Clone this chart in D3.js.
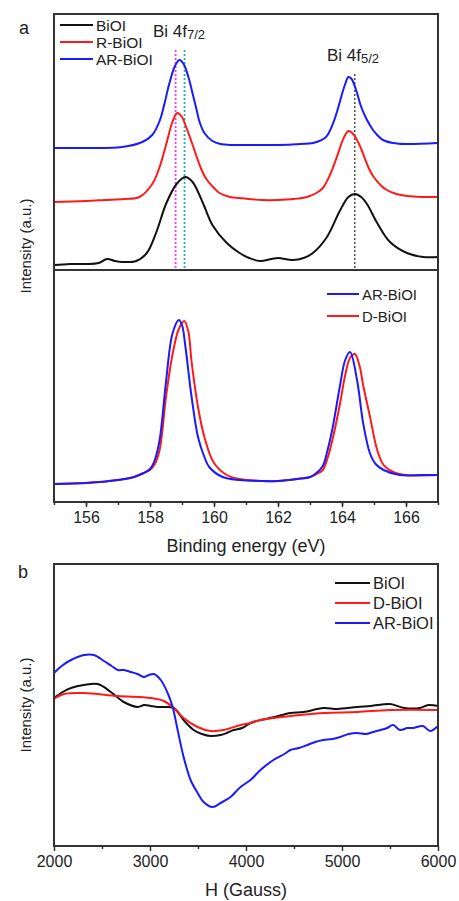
<!DOCTYPE html>
<html lang="en">
<head>
<meta charset="UTF-8">
<title>BiOI XPS / EPR</title>
<script src="https://d3js.org/d3.v7.min.js"></script>
<style>
  body { margin: 0; background: #fff; }
  text { font-family: "Liberation Sans", Arial, sans-serif; fill: #222; }
</style>
</head>
<body>
<div id="chart"></div>
<script>
// ---- data (arbitrary intensity units) ----
// panel a, upper: XPS Bi 4f, stacked
var xpsBiOI = [[155,5],[155.5,6],[156,6],[156.4,7],[156.66,11],[156.9,9],[157.13,8],[157.57,9],[157.9,17],[158.2,38],[158.5,66],[158.83,86],[159.1,93],[159.33,88],[159.64,68],[159.95,45],[160.4,27],[160.8,17],[161.1,12],[161.43,9],[161.8,11],[162,12],[162.46,10],[162.8,12],[163.09,17],[163.53,33],[163.93,59],[164.2,73],[164.4,76],[164.6,73],[164.78,66],[165.1,47],[165.5,28],[166.03,17],[166.54,13],[167,13]];
var xpsRBiOI = [[155,68],[156,69],[156.6,70],[157.2,71],[157.67,73],[158.07,86],[158.3,103],[158.5,125],[158.7,148],[158.85,157],[159,153],[159.13,143],[159.3,128],[159.45,114],[159.6,101],[159.76,91],[160,82],[160.17,77],[160.5,73],[160.8,72],[161.5,70],[162,70],[162.5,71],[162.9,73],[163.2,77],[163.4,82],[163.55,90],[163.7,101],[163.85,114],[164,128],[164.1,135],[164.2,139],[164.32,137],[164.47,130],[164.6,121],[164.72,111],[164.85,101],[164.97,94],[165.2,85],[165.4,80],[165.7,76],[166.03,74],[166.5,73],[167,73]];
var xpsARBiOI = [[155,122],[156,122],[157.13,123],[157.76,128],[158.07,135],[158.3,149],[158.45,166],[158.6,186],[158.78,204],[158.92,210],[159.05,206],[159.2,193],[159.35,174],[159.45,161],[159.55,148],[159.7,137],[159.95,129],[160.2,126],[160.58,125],[161,125],[162,125],[162.7,126],[163.1,127],[163.5,133],[163.7,145],[163.87,161],[164,176],[164.1,186],[164.2,193],[164.3,191],[164.45,179],[164.6,163],[164.75,152],[164.87,145],[164.97,140],[165.1,135],[165.28,130],[165.6,127],[166,126],[167,127]];
// panel a, lower
var xpsARBiOI2 = [[155,18],[156,19],[157,22],[157.5,25],[157.8,29],[158,33],[158.15,42],[158.3,62],[158.5,120],[158.7,168],[158.9,182],[159,177],[159.1,157],[159.3,105],[159.5,65],[159.7,45],[159.85,35],[160.27,25],[160.8,22],[161.5,21],[162,21],[162.6,23],[163,25],[163.2,29],[163.4,36],[163.55,52],[163.7,73],[163.93,115],[164.1,142],[164.25,150],[164.47,122],[164.66,79],[164.87,49],[165.05,38],[165.3,32],[165.8,27],[166.5,27],[167,27]];
var xpsDBiOI = [[155,18],[156,19],[157,22],[157.5,25],[157.8,29],[158,32],[158.15,38],[158.3,52],[158.5,105],[158.7,147],[158.9,173],[159.07,181],[159.2,170],[159.3,140],[159.5,95],[159.7,65],[160,39],[160.4,27],[160.8,23],[161.5,21],[162,21],[162.6,23],[163,25],[163.2,28],[163.4,32],[163.55,44],[163.7,62],[163.93,97],[164.1,127],[164.25,144],[164.4,148],[164.55,136],[164.66,117],[164.87,86],[165.1,52],[165.3,37],[165.6,30],[166,27],[167,27]];
var refLines = [158.8, 159.08, 164.4];
var refColors = ["#ff33ff", "#22b0b0", "#333"];
var refTops = [220, 220, 196];

// panel b: EPR
var eprBiOI = [[2000,148],[2090,154],[2177,158],[2312,161],[2457,162],[2592,154],[2727,144],[2873,139],[2940,141],[3008,140],[3080,139],[3143,139],[3247,138],[3350,126],[3454,116],[3540,112],[3630,110],[3735,111],[3800,113],[3870,116],[3960,118],[4047,123],[4150,126],[4300,129],[4462,133],[4600,134],[4805,138],[4950,137],[5158,139],[5300,140],[5500,142],[5650,138],[5813,138],[5900,141],[6000,140]];
var eprDBiOI = [[2000,147],[2104,152],[2312,153],[2665,150],[3008,148],[3143,145],[3247,138],[3350,128],[3496,119],[3630,115],[3766,116],[3943,121],[4047,123],[4150,126],[4462,130],[4805,133],[5158,134],[5500,136],[6000,136]];
var eprARBiOI = [[2000,173],[2080,180],[2177,186],[2312,191],[2416,191],[2520,185],[2600,180],[2665,176],[2730,176],[2800,174],[2870,172],[2935,169],[2990,171],[3040,172],[3112,166],[3184,153],[3236,139],[3288,116],[3350,89],[3423,66],[3496,53],[3558,44],[3652,39],[3735,43],[3839,49],[3943,59],[4047,66],[4150,76],[4286,86],[4400,92],[4462,96],[4550,98],[4639,101],[4720,104],[4805,106],[4900,107],[4982,109],[5070,112],[5158,113],[5250,112],[5325,114],[5400,116],[5470,118],[5532,121],[5605,116],[5680,118],[5740,118],[5844,120],[5917,115],[6000,120]];

var xTicksA = [156, 158, 160, 162, 164, 166];
var xTicksB = [2000, 3000, 4000, 5000, 6000];

// ---- layout ----
var W = 459, H = 901;
var left = 54, right = 438;
var svg = d3.select("#chart").append("svg")
    .attr("width", W).attr("height", H);

var xA = d3.scaleLinear().domain([155, 167]).range([left, right]);
var yUp = d3.scaleLinear().domain([0, 256]).range([270, 14]);
var yLow = d3.scaleLinear().domain([0, 232]).range([502, 270]);
var xB = d3.scaleLinear().domain([2000, 6000]).range([left, right]);
var yB = d3.scaleLinear().domain([0, 282]).range([846, 564]);

function drawLine(data, xs, ys, color, w) {
    svg.append("path")
        .datum(data)
        .attr("fill", "none")
        .attr("stroke", color)
        .attr("stroke-width", w || 2)
        .attr("stroke-linejoin", "round")
        .attr("d", d3.line()
            .x(function(d) { return xs(d[0]); })
            .y(function(d) { return ys(d[1]); })
            .curve(d3.curveCatmullRom.alpha(0.5)));
}

// reference dotted lines
refLines.forEach(function(v, i) {
    svg.append("line")
        .attr("x1", xA(v)).attr("x2", xA(v))
        .attr("y1", yUp(refTops[i])).attr("y2", yUp(0))
        .attr("stroke", refColors[i])
        .attr("stroke-width", i == 2 ? 1.3 : 1.8)
        .attr("stroke-dasharray", "2,2");
});

drawLine(xpsBiOI, xA, yUp, "#111");
drawLine(xpsRBiOI, xA, yUp, "#ff1a1a");
drawLine(xpsARBiOI, xA, yUp, "#1a1aff");
drawLine(xpsDBiOI, xA, yLow, "#ff1a1a");
drawLine(xpsARBiOI2, xA, yLow, "#1a1aff");

drawLine(eprBiOI, xB, yB, "#111");
drawLine(eprDBiOI, xB, yB, "#ff1a1a");
drawLine(eprARBiOI, xB, yB, "#1a1aff");

// frames
svg.append("rect").attr("x", left).attr("y", 14)
    .attr("width", right - left).attr("height", 502 - 14)
    .attr("fill", "none").attr("stroke", "#333").attr("stroke-width", 2);
svg.append("line").attr("x1", left).attr("x2", right)
    .attr("y1", 270).attr("y2", 270)
    .attr("stroke", "#333").attr("stroke-width", 2);
svg.append("rect").attr("x", left).attr("y", 564)
    .attr("width", right - left).attr("height", 846 - 564)
    .attr("fill", "none").attr("stroke", "#333").attr("stroke-width", 2);

// axes
function styleAxis(g) {
    g.select(".domain").remove();
    g.selectAll("line").attr("stroke", "#333").attr("stroke-width", 1.5);
    g.selectAll("text").style("font-size", "16px")
        .style("font-family", "'Liberation Sans', Arial, sans-serif")
        .attr("fill", "#222");
}
var axA = svg.append("g").attr("transform", "translate(0,502)")
    .call(d3.axisBottom(xA).tickValues(xTicksA).tickSize(5).tickPadding(5));
styleAxis(axA);
var axAm = svg.append("g").attr("transform", "translate(0,502)")
    .call(d3.axisBottom(xA).tickValues(d3.range(155, 168, 1)).tickSize(3).tickFormat(""));
styleAxis(axAm);

var axB = svg.append("g").attr("transform", "translate(0,846)")
    .call(d3.axisBottom(xB).tickValues(xTicksB).tickSize(5).tickPadding(5).tickFormat(d3.format("d")));
styleAxis(axB);
var axBm = svg.append("g").attr("transform", "translate(0,846)")
    .call(d3.axisBottom(xB).tickValues([2500, 3500, 4500, 5500]).tickSize(3).tickFormat(""));
styleAxis(axBm);

// titles
svg.append("text").attr("x", (left + right) / 2).attr("y", 552)
    .attr("text-anchor", "middle").style("font-size", "18px")
    .text("Binding energy (eV)");
svg.append("text").attr("x", (left + right) / 2).attr("y", 896)
    .attr("text-anchor", "middle").style("font-size", "18px")
    .text("H (Gauss)");
svg.append("text").attr("transform", "translate(31,246) rotate(-90)")
    .attr("text-anchor", "middle").style("font-size", "15px")
    .text("Intensity (a.u.)");
svg.append("text").attr("transform", "translate(31,705) rotate(-90)")
    .attr("text-anchor", "middle").style("font-size", "15px")
    .text("Intensity (a.u.)");
svg.append("text").attr("x", 19).attr("y", 34).style("font-size", "18px").text("a");
svg.append("text").attr("x", 18).attr("y", 578).style("font-size", "18px").text("b");

// peak labels
var t1 = svg.append("text").attr("x", 153).attr("y", 37).style("font-size", "17px");
t1.append("tspan").text("Bi 4f");
t1.append("tspan").attr("dy", 2).style("font-size", "13px").text("7/2");
var t2 = svg.append("text").attr("x", 327).attr("y", 61).style("font-size", "17px");
t2.append("tspan").text("Bi 4f");
t2.append("tspan").attr("dy", 2).style("font-size", "13px").text("5/2");

// legends
function legend(items, x0, x1, ys, fs) {
    items.forEach(function(it, i) {
        svg.append("line").attr("x1", x0).attr("x2", x1)
            .attr("y1", ys[i]).attr("y2", ys[i])
            .attr("stroke", it[1]).attr("stroke-width", 2);
        svg.append("text").attr("x", x1 + 3).attr("y", ys[i] + 5.5)
            .style("font-size", fs + "px").text(it[0]);
    });
}
legend([["BiOI", "#111"], ["R-BiOI", "#ff1a1a"], ["AR-BiOI", "#1a1aff"]], 60, 93, [25, 42, 59], 15.5);
legend([["AR-BiOI", "#1a1aff"], ["D-BiOI", "#ff1a1a"]], 327, 359, [294, 316], 15);
legend([["BiOI", "#111"], ["D-BiOI", "#ff1a1a"], ["AR-BiOI", "#1a1aff"]], 335, 370, [583, 603, 623], 16.5);
</script>
</body>
</html>
